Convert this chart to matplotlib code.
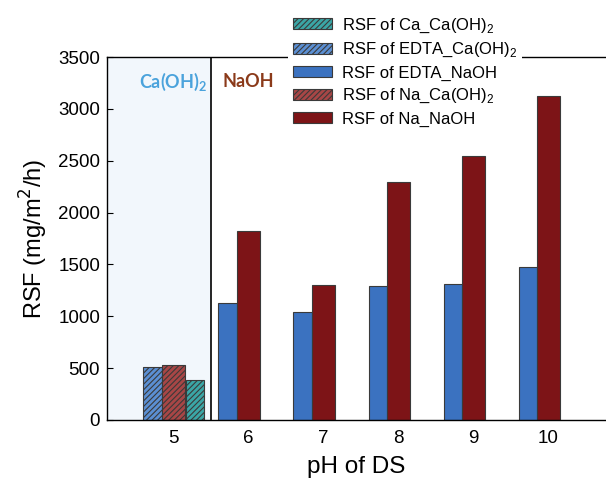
import matplotlib
matplotlib.use("Agg")
from matplotlib import pyplot as plt
import numpy as np

plt.rcParams['font.family'] = ['Liberation Sans', 'DejaVu Sans']
plt.rcParams['hatch.linewidth'] = 0.8

# data
ph_ca = [5]
ca_caoh = [390]
edta_caoh = [515]
na_caoh = [535]

ph_na = [6, 7, 8, 9, 10]
edta_naoh = [1128, 1041, 1292, 1311, 1475]
na_naoh = [1823, 1302, 2295, 2546, 3124]

ticks = [5, 6, 7, 8, 9, 10]
yticks = [0, 500, 1000, 1500, 2000, 2500, 3000, 3500]

blue = '#3b72c0'
red = '#7d1417'
edge = '#3a3a3a'

fig = plt.figure(figsize=(6.06, 4.91), dpi=100)
ax = fig.add_axes([107 / 606, 1 - 420 / 491, 1 - 107 / 606, (420 - 57) / 491])

xlo, xhi = 4.12, 10.77
ax.axvspan(xlo, 5.5, color='#f2f7fc', zorder=0, lw=0)
ax.axvline(5.5, color='black', lw=1.2, zorder=3)

ph_ca = np.array(ph_ca)
ph_na = np.array(ph_na)

b_ca = ax.bar(ph_ca + 0.29, ca_caoh, width=0.24, color='#3aa6a6',
              edgecolor=edge, hatch='//////', lw=0.8, zorder=2)
b_edta_ca = ax.bar(ph_ca - 0.27, edta_caoh, width=0.25, color='#5b8fd3',
                   edgecolor=edge, hatch='//////', lw=0.8, zorder=2)
b_edta_na = ax.bar(ph_na - 0.27, edta_naoh, width=0.25, color=blue,
                   edgecolor=edge, lw=0.8, zorder=2)
b_na_ca = ax.bar(ph_ca + 0.005, na_caoh, width=0.30, color='#a84646',
                 edgecolor=edge, hatch='//////', lw=0.8, zorder=2)
b_na_na = ax.bar(ph_na + 0.005, na_naoh, width=0.30, color=red,
                 edgecolor=edge, lw=0.8, zorder=2)

ax.set_xlim(xlo, xhi)
ax.set_ylim(0, 3500)
ax.set_xticks(ticks)
ax.set_yticks(yticks)
ax.tick_params(axis='x', length=0, labelsize=13.5, pad=7)
ax.tick_params(axis='y', direction='in', length=4, labelsize=13.5, pad=5)

ax.spines['right'].set_visible(False)
for s in ['left', 'bottom', 'top']:
    ax.spines[s].set_linewidth(1.0)

ax.set_xlabel('pH of DS', fontsize=17.5, labelpad=7)
ax.set_ylabel(r'RSF (mg/m$^2$/h)', fontsize=17, labelpad=6)

ax.text(5.0, 3260, r'Ca(OH)$_\mathregular{2}$', color='#4ba3dc', fontsize=13,
        fontweight='bold', family='Lato', ha='center', va='center')
ax.text(6.0, 3260, 'NaOH', color='#8b3a1a', fontsize=13,
        fontweight='bold', family='Lato', ha='center', va='center')

handles = [b_ca, b_edta_ca, b_edta_na, b_na_ca, b_na_na]
labels = [r'RSF of Ca_Ca(OH)$_\mathregular{2}$',
          r'RSF of EDTA_Ca(OH)$_\mathregular{2}$',
          'RSF of EDTA_NaOH',
          r'RSF of Na_Ca(OH)$_\mathregular{2}$',
          'RSF of Na_NaOH']
leg = fig.legend(handles, labels, loc='upper left',
                 bbox_to_anchor=(280 / 606, 1 - 3 / 491),
                 fontsize=12, frameon=True, facecolor='white',
                 edgecolor='none', framealpha=1, fancybox=False,
                 handlelength=2.3, handleheight=0.6, labelspacing=0.38,
                 borderpad=0.3, handletextpad=0.6)
leg.set_zorder(5)

plt.savefig('out.png', dpi=100)
plt.clf()
